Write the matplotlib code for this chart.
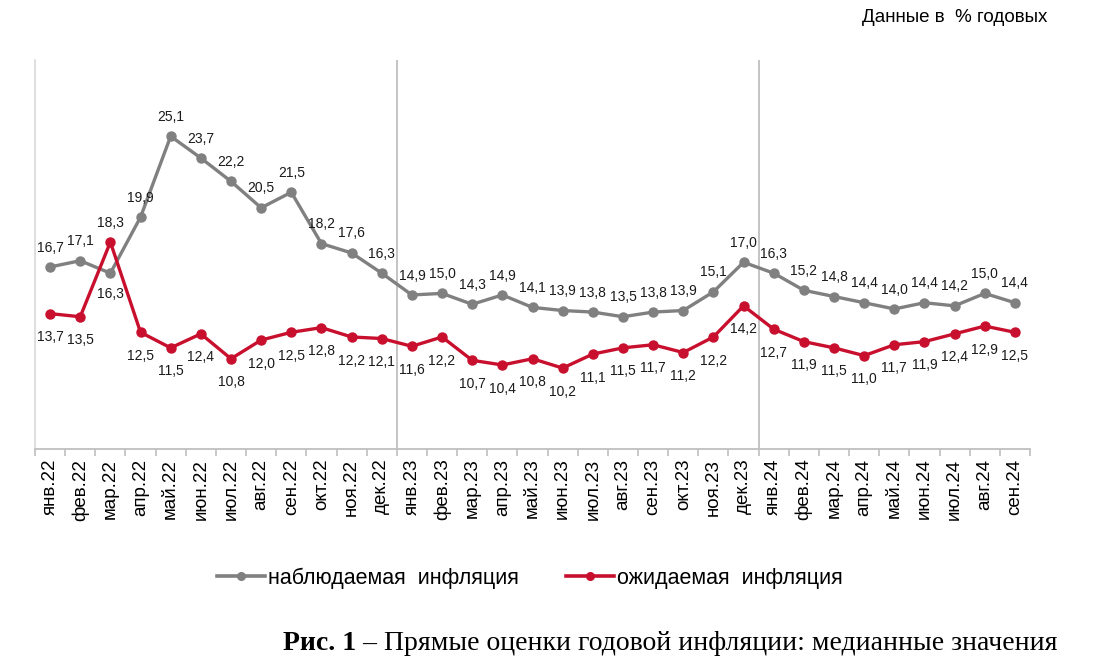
import matplotlib
matplotlib.use("Agg")
import matplotlib.pyplot as plt
from matplotlib.lines import Line2D

months = ["янв", "фев", "мар", "апр", "май", "июн", "июл", "авг", "сен", "окт", "ноя", "дек"]
categories = [f"{m}.22" for m in months] + [f"{m}.23" for m in months] + [f"{m}.24" for m in months[:9]]

observed = [16.7, 17.1, 16.3, 19.9, 25.1, 23.7, 22.2, 20.5, 21.5, 18.2, 17.6, 16.3,
            14.9, 15.0, 14.3, 14.9, 14.1, 13.9, 13.8, 13.5, 13.8, 13.9, 15.1, 17.0,
            16.3, 15.2, 14.8, 14.4, 14.0, 14.4, 14.2, 15.0, 14.4]
expected = [13.7, 13.5, 18.3, 12.5, 11.5, 12.4, 10.8, 12.0, 12.5, 12.8, 12.2, 12.1,
            11.6, 12.2, 10.7, 10.4, 10.8, 10.2, 11.1, 11.5, 11.7, 11.2, 12.2, 14.2,
            12.7, 11.9, 11.5, 11.0, 11.7, 11.9, 12.4, 12.9, 12.5]

GREY = "#808080"
RED = "#c8102e"

plt.rcParams['font.family'] = ['Liberation Sans', 'DejaVu Sans']

fig = plt.figure(figsize=(11.1, 6.7), dpi=100)
ax = fig.add_axes([35/1110, 1 - 449/670, (1030 - 35)/1110, (449 - 60)/670])

x = list(range(len(categories)))
ax.plot(x, observed, color=GREY, lw=2.4, marker='o', ms=6.5, zorder=3)
ax.plot(x, expected, color=RED, lw=2.4, marker='o', ms=6.5, zorder=3)

def fmt(v):
    return f"{v:.1f}".replace('.', ',')

for i, (o, e) in enumerate(zip(observed, expected)):
    o_off = -15 if i == 2 else 14
    e_off = 14 if i == 2 else -17
    ax.annotate(fmt(o), (i, o), xytext=(0, o_off), textcoords='offset points',
                ha='center', va='center', fontsize=10, color='#1a1a1a')
    ax.annotate(fmt(e), (i, e), xytext=(0, e_off), textcoords='offset points',
                ha='center', va='center', fontsize=10, color='#1a1a1a')

ax.set_xlim(-0.5, len(categories) - 0.5)
ax.set_ylim(5, 30)

for xv in (11.5, 23.5):
    ax.axvline(xv, color='#bfbfbf', lw=1.3, zorder=1)

for s in ('top', 'right'):
    ax.spines[s].set_visible(False)
ax.spines['left'].set_color('#d9d9d9')
ax.spines['left'].set_linewidth(1.2)
ax.spines['bottom'].set_color('#bfbfbf')
ax.spines['bottom'].set_linewidth(1.3)
ax.set_yticks([])

ax.set_xticks(x)
ax.set_xticklabels(categories, rotation=90, fontsize=13.5, va='top')
ax.tick_params(axis='x', which='major', length=0, pad=7)
ax.set_xticks([i - 0.5 for i in range(len(categories) + 1)], minor=True)
ax.tick_params(axis='x', which='minor', length=5, color='#bfbfbf', width=1.2)

handles = [Line2D([0], [0], color=GREY, lw=2.6, marker='o', ms=5.5),
           Line2D([0], [0], color=RED, lw=2.6, marker='o', ms=5.5)]
fig.legend(handles, ["наблюдаемая  инфляция", "ожидаемая  инфляция"],
           loc='center', bbox_to_anchor=(530/1110, 1 - 578/670), ncol=2, frameon=False,
           fontsize=15.5, handlelength=2.2, handletextpad=0.15, columnspacing=2.2)

fig.text(1047/1110, 1 - 17/670, "Данные в  % годовых", ha='right', va='center', fontsize=13.5)

cap_bold = fig.text(283/1110, 1 - 643/670, "Рис. 1", ha='left', va='center', fontsize=20,
                    family=['Liberation Serif', 'DejaVu Serif'], weight='bold')
fig.canvas.draw()
bb = cap_bold.get_window_extent()
fig.text(bb.x1 / fig.bbox.width, 1 - 643/670, " – Прямые оценки годовой инфляции: медианные значения",
         ha='left', va='center', fontsize=20, family=['Liberation Serif', 'DejaVu Serif'])

fig.savefig("out.png", dpi=100)
